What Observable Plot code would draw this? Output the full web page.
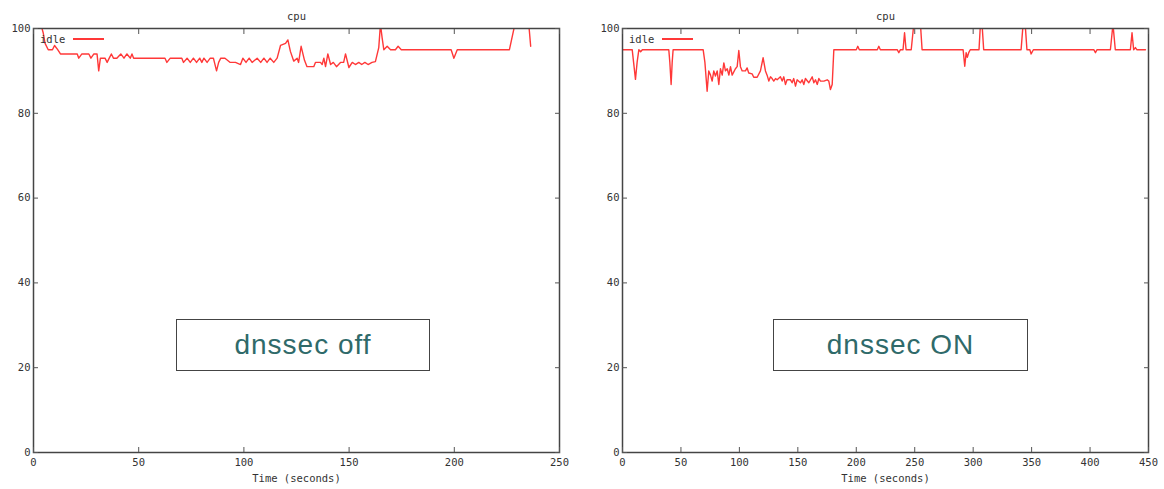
<!DOCTYPE html>
<html>
<head>
<meta charset="utf-8">
<script src="https://cdn.jsdelivr.net/npm/d3@7"></script>
<script src="https://cdn.jsdelivr.net/npm/@observablehq/plot@0.6"></script>
<style>
  html, body { margin: 0; padding: 0; background: #fff; }
  #wrap { position: relative; width: 1164px; height: 489px; display: flex; }
  .legend { position: absolute; font: 10.5px "DejaVu Sans Mono", monospace; color: #333; display: flex; align-items: center; }
  .legend .sw { display: inline-block; width: 31px; height: 2px; background: #ff3838; margin-left: 8px; }
  .note { position: absolute; box-sizing: border-box; border: 1.5px solid #444; background: #fff;
          font: 28px "Liberation Sans", Arial, sans-serif; letter-spacing: 1px; color: #2f6a6a; display: flex; align-items: center; justify-content: center; }
</style>
</head>
<body>
<div id="wrap"></div>
<script>
// ---- data ----
const chartTitle = "cpu";
const seriesName = "idle";
const xLabel = "Time (seconds)";
const yTicks = [0, 20, 40, 60, 80, 100];
const leftXTicks = [0, 50, 100, 150, 200, 250];
const rightXTicks = [0, 50, 100, 150, 200, 250, 300, 350, 400, 450];
const notes = ["dnssec off", "dnssec ON"];

// dnssec off run
const offTime = [3.5,4.6,5.5,7,9,10,11.5,12.8,20.8,21.5,23,26.3,27.3,28.7,30.2,31,31.8,34,35,36,37,38,39.6,41.5,43,44.4,46,46.8,47.6,62.5,63.4,65,70.5,71.3,73,74.5,76,77.5,79,80,81,82.5,84,85.5,87,88,89,91,93.5,96,98.4,99.5,101,102.5,103.9,106.3,108,109.5,111,112.5,114.2,115.8,117.4,119.8,120.9,122.1,123.7,125.3,126,127.2,128.8,130,133.2,134,136.4,137.2,138,138.8,139.9,141.2,142.5,144,145.9,147.4,148.3,149.9,151.5,153,154.6,156,157.5,159,160.9,162.5,164.1,164.9,165.7,166.5,168.1,169.7,172,173.3,174.8,198.5,199.8,201.4,226.2,228.8,235.4,236.3];
const offIdle = [101,99,96.5,95,95,96,95,94,94,93,94,94,93,94,94,90,93,93,92,93,94,93,93,94,93,94,93,94,93,93,92,93,93,92,93,92,93,92,93,92,93,92,93,93,90,92,93,93,92,92,91.5,93,92,93,92,93,92,93,92,93,92,93,96,96.5,97.3,94.6,92.3,93,92,95.8,92.5,91,91,92,92,91.5,93,91,94,91.5,92,91,92,92,94,90.8,92,91.5,92,91.5,92,91.5,92,92.2,95.5,101,97.8,95,95.8,95,95,95.8,95,95,93,95,95,101,101,95.8];

// dnssec ON run
const onTime = [0,8.3,9.5,11.1,12.5,14,15.5,17,39.6,40.5,41.6,42.5,43.3,69,70.5,72.4,73.8,75.3,76.7,78.1,79.5,81,82.4,83.8,85.3,86.7,88.1,89.6,91,92.4,93.8,96.6,98.1,99.5,100.9,102.4,105.2,106.6,108,110.9,112.3,115.2,118,120.3,122.3,123.7,125.2,126.6,128,129.4,130.9,132.3,135.1,136.6,138,139.4,140.8,143.7,145.1,146.5,148,149.4,152.2,153.7,155.1,156.5,159.4,162.3,163.7,165.1,166.6,168,169.4,172.3,175.1,176.5,177.9,179.4,180.8,200,201.3,202.6,218,219.3,220.6,235,236.4,237.8,240,241.3,242.6,247,249.2,254.9,256.3,291.4,292.8,294,295,296.2,297.5,305,306.2,307.6,309,341,342.7,344.5,346,348.5,349.6,351.5,403.2,404.6,406,417.4,419.6,421.6,434.5,435.9,437.3,438.8,440,447.4];
const onIdle = [95,95,92,88,92,95,94.5,95,95,92,86.8,92,95,95,92,85.2,90,89,87.6,90,88.8,90,86.8,90.5,89,91.9,90,90.5,89,91,89,90.5,91,94.8,91,90,90,90.7,89.5,89.3,88.5,88.5,90,93.1,90,89,87.6,88.6,88.2,87.6,88.2,87.9,88.6,87.6,88.6,86.8,87.9,87.9,87.2,88.2,86.4,87.9,87.2,87.9,86.8,88.2,87.2,88.6,87.2,87.9,86.8,88.2,87.6,87.6,87.9,87.6,85.6,86.8,95,95,95.8,95,95,95.8,95,95,94.3,95,95,99,95,95,101,101,95,95,91.1,94.3,93.2,94.3,95,95,101,101,95,95,101,101,95,95,94,95,95,94.3,95,95,101,95,95,99,95,95.5,95,95];

const offData = offTime.map((t, i) => ({t, v: offIdle[i]}));
const onData = onTime.map((t, i) => ({t, v: onIdle[i]}));

function makeChart({data, width, marginLeft, marginRight, xMax, xTicks}) {
  return Plot.plot({
    width, height: 489,
    marginLeft, marginRight, marginTop: 28, marginBottom: 37,
    x: {domain: [0, xMax]},
    y: {domain: [0, 100]},
    style: {fontFamily: "'DejaVu Sans Mono', monospace", fontSize: "10.5px", color: "#333", background: "#fff", overflow: "visible"},
    marks: [
      Plot.line(data, {x: "t", y: "v", stroke: "#ff3838", strokeWidth: 1.4, clip: true}),
      Plot.frame({stroke: "#444", strokeWidth: 1.5}),
      Plot.axisX({ticks: xTicks, tickSize: -5, tickPadding: 11, label: null, stroke: "#555"}),
      Plot.axisX({anchor: "top", ticks: xTicks, tickSize: -5, tickFormat: () => "", label: null, stroke: "#555"}),
      Plot.axisY({ticks: yTicks, tickSize: -5, tickPadding: 8, label: null, stroke: "#555"}),
      Plot.axisY({anchor: "right", ticks: yTicks, tickSize: -5, tickFormat: () => "", label: null, stroke: "#555"}),
      Plot.text([chartTitle], {frameAnchor: "top", dy: -16, fill: "#333"}),
      Plot.text([xLabel], {frameAnchor: "bottom", dy: 29, fill: "#333"})
    ]
  });
}

const wrap = document.getElementById("wrap");
wrap.append(makeChart({data: offData, width: 580, marginLeft: 33, marginRight: 21, xMax: 250, xTicks: leftXTicks}));
wrap.append(makeChart({data: onData, width: 584, marginLeft: 42, marginRight: 16, xMax: 450, xTicks: rightXTicks}));

// legends
[[40, 33], [629, 33]].forEach(([left, top]) => {
  const d = document.createElement("div");
  d.className = "legend";
  d.style.left = left + "px"; d.style.top = top + "px";
  d.innerHTML = `<span>${seriesName}</span><span class="sw"></span>`;
  wrap.append(d);
});
// annotation boxes
[[176, 319, 254, 52, notes[0]], [773, 319, 255, 52, notes[1]]].forEach(([l, t, w, h, txt]) => {
  const d = document.createElement("div");
  d.className = "note";
  Object.assign(d.style, {left: l + "px", top: t + "px", width: w + "px", height: h + "px"});
  d.textContent = txt;
  wrap.append(d);
});
</script>
</body>
</html>
